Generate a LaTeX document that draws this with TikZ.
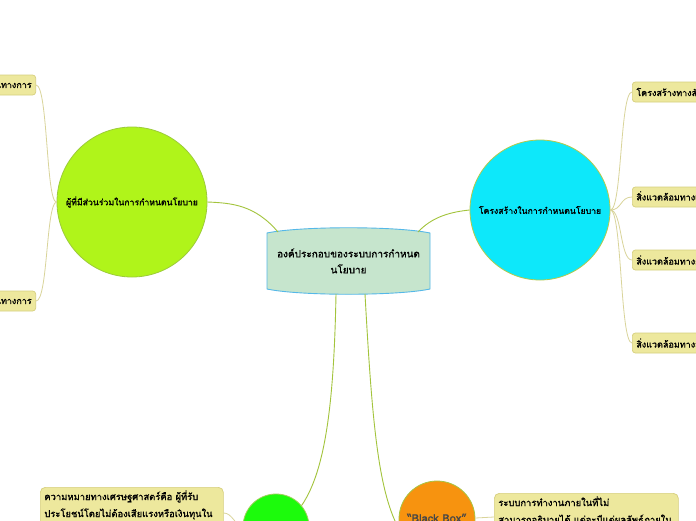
\documentclass[tikz,border=0pt]{standalone}
\usepackage{fontspec}
\setmainfont[Script=Thai]{Loma}
\newfontfamily\tb[Script=Thai,FakeBold=1.3]{Loma}
\definecolor{limec}{HTML}{B0F41A}
\definecolor{limeb}{HTML}{9CCB3A}
\definecolor{cyanc}{HTML}{0DE8FA}
\definecolor{cyanb}{HTML}{B4C94A}
\definecolor{centf}{HTML}{C6E5CD}
\definecolor{centb}{HTML}{55B8E8}
\definecolor{greenc}{HTML}{1CFB0C}
\definecolor{greenb}{HTML}{9ED05A}
\definecolor{orangec}{HTML}{F7930F}
\definecolor{orangeb}{HTML}{A8C444}
\definecolor{connc}{HTML}{A3C43C}
\definecolor{leafc}{HTML}{D9D49A}
\definecolor{leaff}{HTML}{EDE89D}
\definecolor{leafb}{HTML}{D6CF7E}
\begin{document}
\begin{tikzpicture}[x=1pt,y=-1pt,
  topic/.style={circle,inner sep=0pt,line width=0.8pt,font=\tb\fontsize{8.7}{10}\selectfont},
  conn/.style={draw=connc,line width=0.9pt},
  leafconn/.style={draw=leafc,line width=0.8pt},
  leaf/.style={rectangle,rounded corners=3pt,fill=leaff,draw=leafb,line width=0.7pt,inner xsep=4pt,minimum height=20pt,font=\tb\fontsize{9}{10}\selectfont},
  bigleaf/.style={rectangle,rounded corners=5pt,fill=leaff,draw=leafb,line width=0.7pt,inner xsep=4pt,inner ysep=3pt,align=left,anchor=north west,text depth=50pt,font=\tb\fontsize{9.4}{17}\selectfont}]
\clip (0,0) rectangle (696,520);
\fill[white] (0,0) rectangle (696,520);
% connectors from centre
\coordinate (c1) at (278,232);
\coordinate (c2) at (418,232);
\coordinate (c3) at (336,294);
\coordinate (c4) at (365,294);
% topics
\node[topic,fill=limec,draw=limeb,minimum size=150pt] (L) at (132,202) {ผู้ที่มีส่วนร่วมในการกำหนดนโยบาย};
\node[topic,fill=cyanc,draw=cyanb,minimum size=140pt] (R) at (540,210) {โครงสร้างในการกำหนดนโยบาย};
\node[topic,fill=greenc,draw=greenb,minimum size=66pt] (G) at (276,527) {};
\node[topic,fill=orangec,draw=orangeb,minimum size=76pt] (O) at (437,519) {};
\node[font=\tb\fontsize{11}{12}\selectfont,text=black!72] (Ot) at (437,518) {“Black Box”};
% central node
\fill[centf] (267,233) .. controls (300,226) and (397,226) .. (430,233) -- (430,289) .. controls (397,296) and (300,296) .. (267,289) -- cycle;
\draw[centb,line width=0.9pt] (267,233) .. controls (300,226) and (397,226) .. (430,233) -- (430,289) .. controls (397,296) and (300,296) .. (267,289) -- cycle;
\node[align=center,font=\tb\fontsize{10}{16}\selectfont] (C) at (348.5,261) {องค์ประกอบของระบบการกำหนด\\นโยบาย};
% leaves
\node[leaf,anchor=east] (l1) at (36,85) {ผู้มีส่วนร่วมอย่างเป็นทางการ};
\node[leaf,anchor=east] (l2) at (36,301) {ผู้มีส่วนร่วมอย่างไม่เป็นทางการ};
\node[leaf,anchor=west] (r1) at (632,92) {โครงสร้างทางสังคม};
\node[leaf,anchor=west] (r2) at (632,197) {สิ่งแวดล้อมทางเศรษฐกิจ};
\node[leaf,anchor=west] (r3) at (632,260) {สิ่งแวดล้อมทางการเมือง};
\node[leaf,anchor=west] (r4) at (632,343) {สิ่งแวดล้อมทางสังคม};
\node[bigleaf,text width=175pt] (b1) at (40,487) {ความหมายทางเศรษฐศาสตร์คือ ผู้ที่รับ\\ประโยชน์โดยไม่ต้องเสียแรงหรือเงินทุนใน};
\node[bigleaf,text width=176pt] (b2) at (494,493) {ระบบการทำงานภายในที่ไม่\\สามารถอธิบายได้ แต่จะมีแต่ผลลัพธ์ภายใน};
% connectors
\draw[conn] (c1) .. controls (255,205) and (232,203) .. (L.east);
\draw[conn] (c2) .. controls (432,217) and (450,212) .. (R.west);
\draw[conn] (c3) .. controls (334,400) and (326,470) .. (G.40);
\draw[conn] (c4) .. controls (372,420) and (378,495) .. (O.200);
\draw[leafconn] (L.west) .. controls (46,203) and (48,85) .. (l1.east);
\draw[leafconn] (L.west) .. controls (46,203) and (48,301) .. (l2.east);
\draw[leafconn] (R.east) .. controls (622,210) and (620,92) .. (r1.west);
\draw[leafconn] (R.east) .. controls (622,210) and (620,197) .. (r2.west);
\draw[leafconn] (R.east) .. controls (622,210) and (620,260) .. (r3.west);
\draw[leafconn] (R.east) .. controls (622,210) and (620,343) .. (r4.west);
\draw[leafconn] (b1.east |- 0,513) .. controls (232,513) and (235,525) .. (G.west);
\draw[leafconn] (O.east |- 0,518) -- (b2.west |- 0,517);
\end{tikzpicture}
\end{document}
